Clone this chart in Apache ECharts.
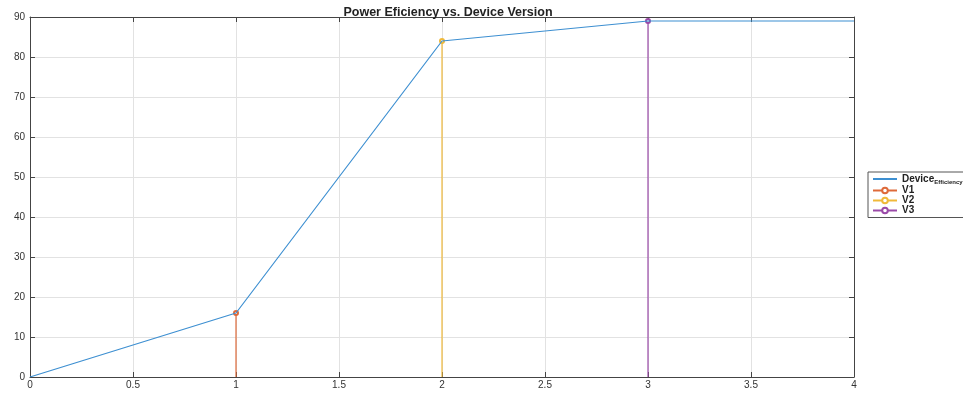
<!DOCTYPE html>
<html>
<head>
<meta charset="utf-8">
<script src="https://cdn.jsdelivr.net/npm/echarts@6/dist/echarts.min.js"></script>
<style>
  html, body { margin: 0; padding: 0; background: #fff; }
  #main { width: 963px; height: 394px; }
</style>
</head>
<body>
<div id="main"></div>
<script>
// device version vs efficiency
const versions = [0, 1, 2, 3, 4];
const efficiency = [0, 16, 84, 89, 89];

// stems for the three versions
const stemNames = ['V1', 'V2', 'V3'];
const stemX = [1, 2, 3];
const stemY = [16, 84, 89];
const stemColors = ['#de6a3a', '#f0b93a', '#9a4aa8'];

const axisColor = '#444';
const labelColor = '#333';

const chart = echarts.init(document.getElementById('main'));

const stemSeries = stemNames.map((name, i) => ({
  name: name,
  type: 'line',
  xAxisIndex: 0,
  yAxisIndex: 0,
  symbol: 'emptyCircle',
  symbolSize: 4,
  lineStyle: { color: stemColors[i], width: 1.2 },
  itemStyle: { color: stemColors[i], borderColor: stemColors[i], borderWidth: 0.6 },
  data: [
    { value: [stemX[i], 0], symbol: 'none' },
    { value: [stemX[i], stemY[i]] }
  ],
  z: 3
}));

const axisBase = {
  type: 'value',
  axisLine: { show: true, onZero: false, lineStyle: { color: axisColor, width: 1 } },
  axisTick: { show: true, inside: true, length: 5, lineStyle: { color: axisColor } }
};

chart.setOption({
  backgroundColor: '#fff',
  animation: false,
  title: {
    text: 'Power Eficiency vs. Device Version',
    left: 443, top: 1, textAlign: 'center',
    textStyle: { fontFamily: 'Liberation Sans', fontSize: 12.5, fontWeight: 'bold', color: '#222' }
  },
  grid: { left: 30, right: 109, top: 17, bottom: 17 },
  legend: {
    orient: 'vertical',
    left: 868, top: 172,
    padding: [2, 20, 2, 4],
    itemGap: 0,
    itemWidth: 24,
    itemHeight: 7,
    borderColor: '#555',
    borderWidth: 1,
    textStyle: {
      fontFamily: 'Liberation Sans', fontSize: 10, fontWeight: 'bold', color: '#222',
      rich: {
        a: { fontFamily: 'Liberation Sans', fontSize: 10, fontWeight: 'bold', color: '#222' },
        b: { fontFamily: 'Liberation Sans', fontSize: 6, fontWeight: 'bold', color: '#222', padding: [7, 0, 0, 0] }
      }
    },
    formatter: name => name === 'Device_Efficiency' ? '{a|Device}{b|Efficiency}' : name,
    data: [
      { name: 'Device_Efficiency', itemStyle: { opacity: 0 } },
      ...stemNames
    ]
  },
  xAxis: [
    Object.assign({}, axisBase, {
      position: 'bottom', min: 0, max: 4, interval: 0.5,
      axisLabel: { color: labelColor, fontFamily: 'Liberation Sans', fontSize: 10, margin: 3 },
      splitLine: { show: true, lineStyle: { color: '#e2e2e2', width: 1 } }
    }),
    Object.assign({}, axisBase, {
      position: 'top', min: 0, max: 4, interval: 0.5,
      axisLabel: { show: false }, splitLine: { show: false }
    })
  ],
  yAxis: [
    Object.assign({}, axisBase, {
      position: 'left', min: 0, max: 90, interval: 10,
      axisLabel: { color: labelColor, fontFamily: 'Liberation Sans', fontSize: 10, margin: 5 },
      splitLine: { show: true, lineStyle: { color: '#e2e2e2', width: 1 } }
    }),
    Object.assign({}, axisBase, {
      position: 'right', min: 0, max: 90, interval: 10,
      axisLabel: { show: false }, splitLine: { show: false }
    })
  ],
  series: [
    {
      name: 'Device_Efficiency',
      type: 'line',
      xAxisIndex: 0,
      yAxisIndex: 0,
      symbol: 'none',
      lineStyle: { color: '#3d8fd1', width: 1.2 },
      itemStyle: { color: '#3d8fd1' },
      data: versions.map((v, i) => [v, efficiency[i]]),
      z: 4
    },
    ...stemSeries
  ]
});
</script>
</body>
</html>
